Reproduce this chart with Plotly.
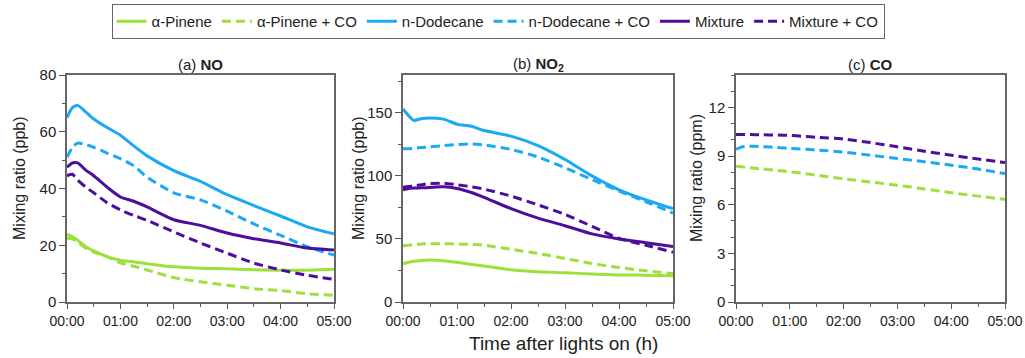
import plotly.graph_objects as go

# Time after lights on, in hours
time_h = [0, 0.1, 0.2, 0.35, 0.5, 0.75, 1.0, 1.25, 1.5, 2.0, 2.5, 3.0, 3.5, 4.0, 4.5, 5.0]
tick_hours = [0, 1, 2, 3, 4, 5]
tick_labels = ["00:00", "01:00", "02:00", "03:00", "04:00", "05:00"]

# NO mixing ratio (ppb)
no_pinene = [23.8, 23.0, 21.8, 19.5, 18.0, 16.0, 14.7, 14.2, 13.5, 12.4, 11.9, 11.7, 11.4, 11.2, 11.2, 11.5]
no_pinene_co = [22.5, 22.3, 21.0, 19.0, 17.6, 16.0, 13.8, 12.6, 11.3, 8.6, 7.1, 5.9, 4.7, 4.0, 2.9, 2.4]
no_dodecane = [65.0, 68.5, 69.3, 67.0, 64.5, 61.5, 58.8, 55.0, 51.5, 46.3, 42.5, 37.8, 34.0, 30.3, 26.5, 24.0]
no_dodecane_co = [51.0, 54.5, 56.0, 55.5, 54.5, 52.5, 50.5, 48.0, 44.0, 38.5, 36.0, 32.0, 27.5, 23.5, 19.5, 16.5]
no_mixture = [47.5, 49.0, 49.0, 46.5, 44.5, 40.5, 37.0, 35.5, 33.5, 29.0, 27.0, 24.3, 22.3, 20.8, 19.0, 18.3]
no_mixture_co = [44.5, 45.0, 43.0, 40.5, 38.5, 35.0, 32.5, 30.5, 28.8, 24.7, 20.8, 17.2, 13.7, 11.3, 9.4, 8.0]

# NO2 mixing ratio (ppb)
no2_pinene = [30.5, 31.5, 32.3, 33.0, 33.3, 32.8, 31.5, 30.0, 28.5, 25.5, 24.0, 23.2, 22.2, 21.5, 21.3, 20.8]
no2_pinene_co = [44.5, 45.0, 45.5, 46.0, 46.2, 46.2, 46.0, 45.7, 45.0, 41.8, 38.5, 34.5, 30.5, 27.3, 24.7, 22.5]
no2_dodecane = [153.0, 148.0, 144.0, 145.5, 146.0, 145.0, 141.0, 139.5, 136.0, 131.5, 124.0, 113.0, 100.0, 89.0, 81.0, 74.0]
no2_dodecane_co = [121.5, 121.5, 122.0, 122.5, 123.0, 124.0, 124.8, 125.3, 124.5, 121.0, 115.0, 106.5, 97.0, 88.0, 79.5, 70.5]
no2_mixture = [89.0, 90.0, 90.3, 90.5, 90.8, 91.3, 90.0, 87.0, 83.0, 74.0, 66.5, 60.5, 54.0, 50.0, 47.0, 44.0]
no2_mixture_co = [91.0, 91.5, 92.0, 93.0, 94.0, 94.2, 93.0, 91.5, 89.5, 84.0, 77.0, 69.5, 60.0, 50.5, 45.0, 39.5]

# CO mixing ratio (ppm)
co_pinene_co = [8.37, 8.34, 8.30, 8.25, 8.20, 8.12, 8.03, 7.93, 7.82, 7.60, 7.40, 7.20, 6.97, 6.74, 6.53, 6.32]
co_dodecane_co = [9.42, 9.55, 9.60, 9.60, 9.58, 9.53, 9.48, 9.43, 9.37, 9.25, 9.05, 8.85, 8.65, 8.44, 8.20, 7.92]
co_mixture_co = [10.33, 10.33, 10.33, 10.32, 10.31, 10.30, 10.27, 10.22, 10.16, 10.05, 9.83, 9.57, 9.30, 9.05, 8.82, 8.60]

GREEN = "#9de03c"
BLUE = "#1ba8f5"
PURPLE = "#4d0e9c"
DASH = "9px,5px"
FONT = "Liberation Sans, Arial, sans-serif"

fig = go.Figure()

def add_line(x, y, name, color, dashed, axis, show):
    fig.add_trace(go.Scatter(
        x=x, y=y, name=name, mode="lines",
        line=dict(color=color, width=3, dash=DASH if dashed else "solid", shape="spline", smoothing=0.6),
        xaxis="x" + axis, yaxis="y" + axis, showlegend=show, legendgroup=name,
    ))

# Panel (a) NO
add_line(time_h, no_pinene, "α-Pinene", GREEN, False, "", True)
add_line(time_h, no_pinene_co, "α-Pinene + CO", GREEN, True, "", True)
add_line(time_h, no_dodecane, "n-Dodecane", BLUE, False, "", True)
add_line(time_h, no_dodecane_co, "n-Dodecane + CO", BLUE, True, "", True)
add_line(time_h, no_mixture, "Mixture", PURPLE, False, "", True)
add_line(time_h, no_mixture_co, "Mixture + CO", PURPLE, True, "", True)

# Panel (b) NO2
add_line(time_h, no2_pinene, "α-Pinene", GREEN, False, "2", False)
add_line(time_h, no2_pinene_co, "α-Pinene + CO", GREEN, True, "2", False)
add_line(time_h, no2_dodecane, "n-Dodecane", BLUE, False, "2", False)
add_line(time_h, no2_dodecane_co, "n-Dodecane + CO", BLUE, True, "2", False)
add_line(time_h, no2_mixture, "Mixture", PURPLE, False, "2", False)
add_line(time_h, no2_mixture_co, "Mixture + CO", PURPLE, True, "2", False)

# Panel (c) CO
add_line(time_h, co_pinene_co, "α-Pinene + CO", GREEN, True, "3", False)
add_line(time_h, co_dodecane_co, "n-Dodecane + CO", BLUE, True, "3", False)
add_line(time_h, co_mixture_co, "Mixture + CO", PURPLE, True, "3", False)

W, H = 1025, 358
y_dom = [(H - 302) / H, (H - 75) / H]
x_doms = [[67 / W, 334 / W], [403 / W, 673 / W], [736 / W, 1005 / W]]

def xaxis(dom, anchor):
    return dict(
        domain=dom, anchor=anchor, range=[0, 5], automargin=False,
        tickvals=tick_hours, ticktext=tick_labels,
        ticks="outside", ticklen=5, tickwidth=1, tickcolor="#555",
        minor=dict(dtick=0.5, tick0=0, ticks="outside", ticklen=3, tickcolor="#555"),
        showline=True, linecolor="#666", linewidth=1.5, mirror=True,
        showgrid=False, zeroline=False,
        tickfont=dict(family=FONT, size=14, color="#222"),
    )

def yaxis(dom, anchor, rng, dtick, minor):
    return dict(
        domain=dom, anchor=anchor, range=rng, dtick=dtick, tick0=0, automargin=False,
        ticks="outside", ticklen=6, tickwidth=1, tickcolor="#555",
        minor=dict(dtick=minor, tick0=0, ticks="outside", ticklen=3, tickcolor="#555"),
        showline=True, linecolor="#666", linewidth=1.5, mirror=True,
        showgrid=False, zeroline=False,
        tickfont=dict(family=FONT, size=15, color="#222"),
    )

fig.update_layout(
    width=W, height=H,
    margin=dict(l=0, r=0, t=0, b=0),
    paper_bgcolor="white", plot_bgcolor="white",
    font=dict(family=FONT, color="#222"),
    xaxis=xaxis(x_doms[0], "y"),
    yaxis=yaxis(y_dom, "x", [0, 80], 20, 10),
    xaxis2=xaxis(x_doms[1], "y2"),
    yaxis2=yaxis(y_dom, "x2", [0, 180], 50, 25),
    xaxis3=xaxis(x_doms[2], "y3"),
    yaxis3=yaxis(y_dom, "x3", [0, 14], 3, 1),
    legend=dict(
        orientation="h", x=498 / W, xanchor="center", y=(H - 21.5) / H, yanchor="middle",
        bordercolor="#666", borderwidth=1, bgcolor="white",
        font=dict(family=FONT, size=15, color="#222"),
        itemwidth=30, tracegroupgap=0,
    ),
)

def ann(text, x_px, y_px, size, angle=0):
    fig.add_annotation(
        text=text, x=x_px / W, y=(H - y_px) / H, xref="paper", yref="paper",
        showarrow=False, textangle=angle, xanchor="center", yanchor="middle",
        font=dict(family=FONT, size=size, color="#222"),
    )

# Panel titles
ann("(a) <b>NO</b>", 200, 65, 15)
ann("(b) <b>NO<sub>2</sub></b>", 538, 65, 15)
ann("(c) <b>CO</b>", 870, 65, 15)

# Axis titles
ann("Mixing ratio (ppb)", 19, 178, 16, -90)
ann("Mixing ratio (ppb)", 358, 178, 16, -90)
ann("Mixing ratio (ppm)", 696, 178, 16, -90)
ann("Time after lights on (h)", 563, 343, 19)

fig.write_html("out.html")
